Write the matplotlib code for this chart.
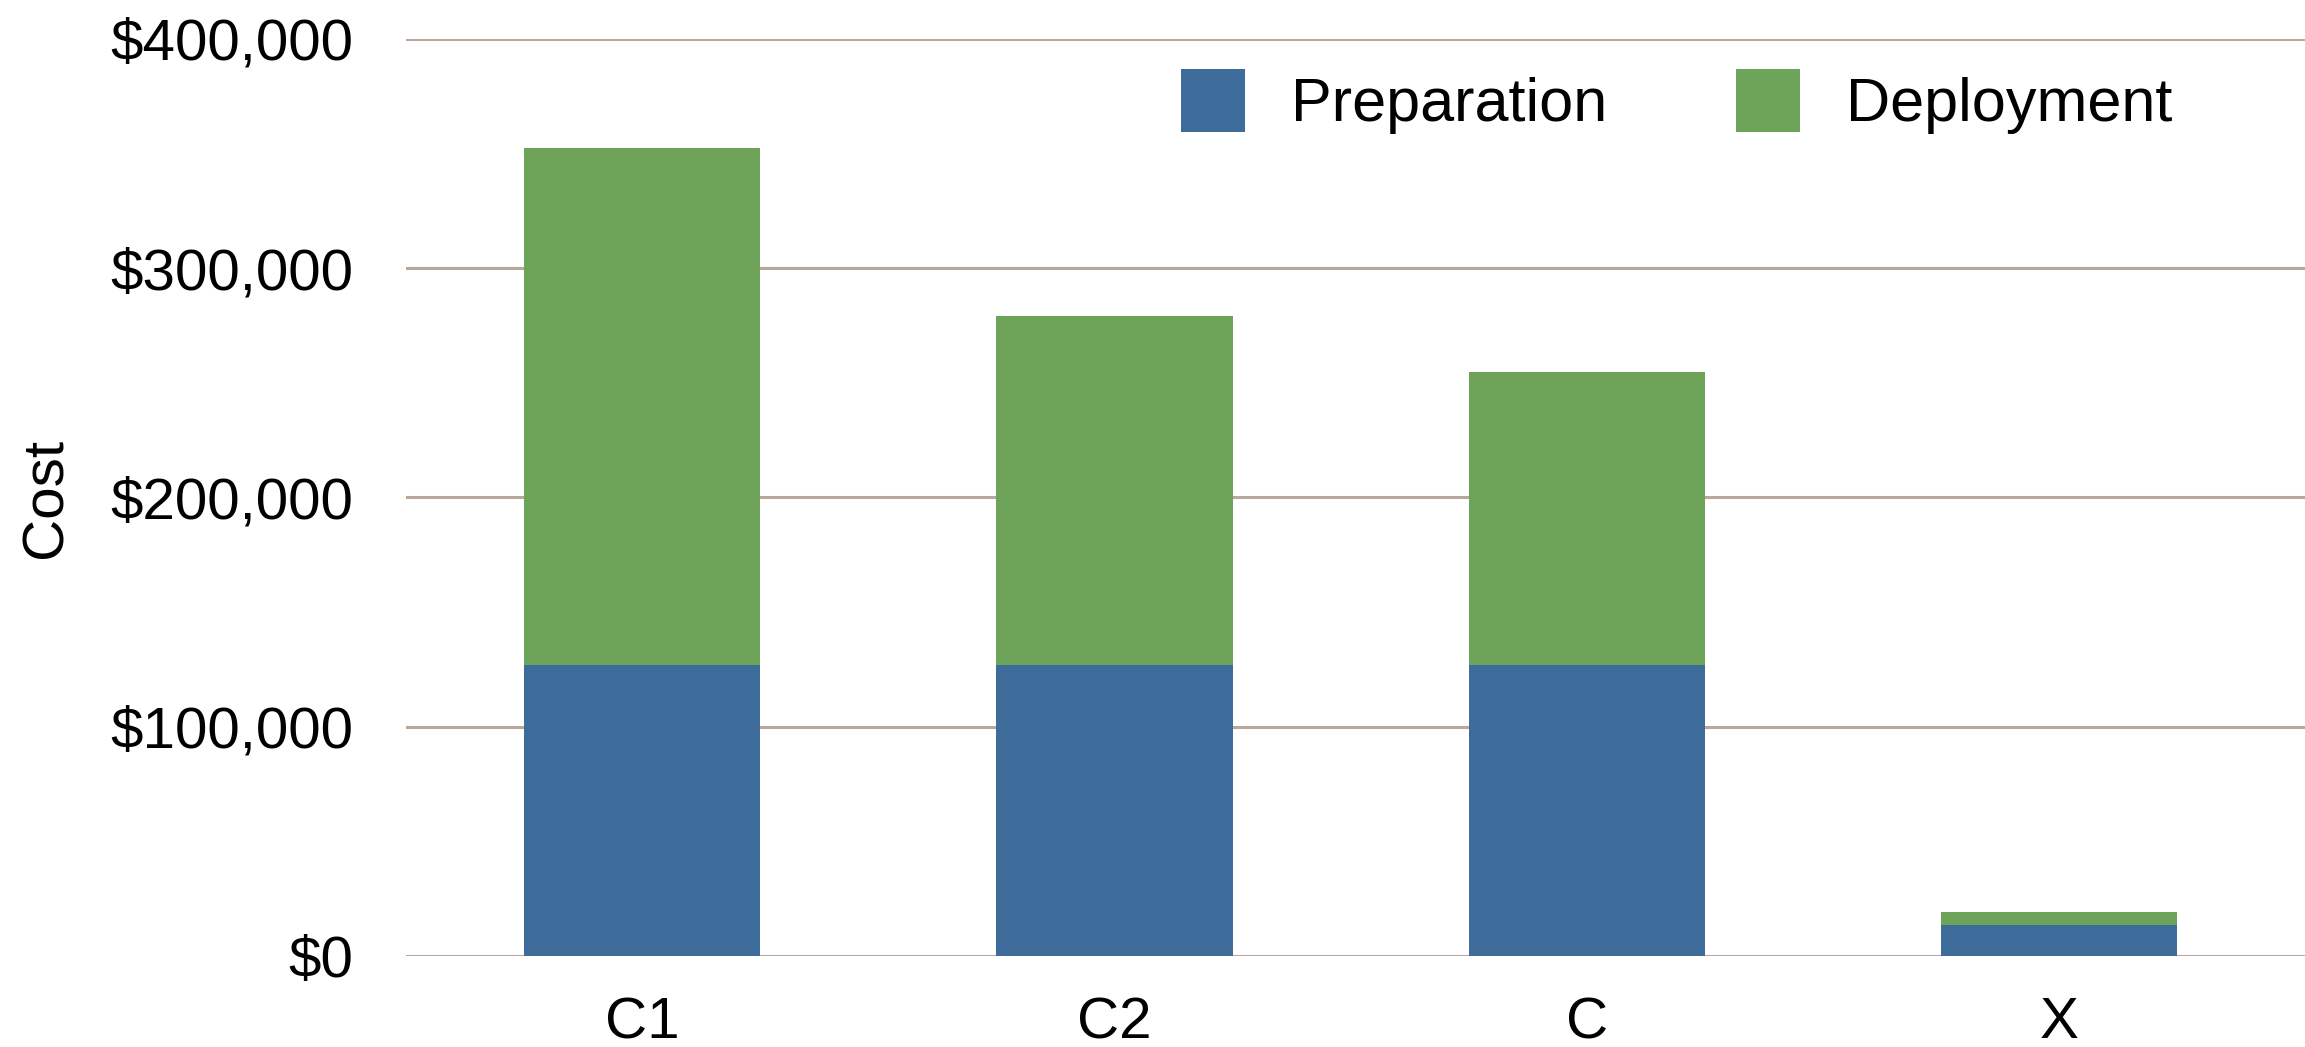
import matplotlib
matplotlib.use("Agg")
import matplotlib.pyplot as plt
from matplotlib.ticker import FuncFormatter

# Cost breakdown per configuration
categories = ["C1", "C2", "C", "X"]
preparation = [127000, 127000, 127000, 13500]
deployment = [225500, 152000, 127700, 5500]

blue = "#3d6c9b"
green = "#6ea45a"
grid_color = "#b9a79c"

plt.rcParams["font.family"] = ["Liberation Sans", "DejaVu Sans"]

fig = plt.figure(figsize=(23.05, 10.47), dpi=100)
ax = fig.add_axes([406 / 2305, 1 - 956 / 1047, (2305 - 406) / 2305, (956 - 39) / 1047])

x = range(len(categories))
ax.bar(x, preparation, width=0.5, color=blue, label="Preparation", zorder=3)
ax.bar(x, deployment, width=0.5, bottom=preparation, color=green,
       label="Deployment", zorder=3)

ax.set_ylim(0, 400000)
ax.set_xlim(-0.5, 3.52)
ax.set_yticks([0, 100000, 200000, 300000, 400000])
ax.yaxis.set_major_formatter(FuncFormatter(lambda v, p: "${:,.0f}".format(v)))
ax.set_xticks(list(x))
ax.set_xticklabels(categories)

ax.grid(axis="y", color=grid_color, linewidth=2.2, zorder=0)
ax.set_axisbelow(True)
for s in ax.spines.values():
    s.set_visible(False)
ax.tick_params(axis="both", length=0, labelsize=42)
ax.tick_params(axis="y", pad=38)
ax.tick_params(axis="x", pad=29)

ax.set_ylabel("Cost", fontsize=42)
ax.yaxis.set_label_coords(-0.175, 0.5)

leg = ax.legend(loc="upper right", bbox_to_anchor=(0.93, 0.967), ncol=2,
                frameon=False, fontsize=44, handlelength=1.05, handleheight=1.21,
                handletextpad=0.75, columnspacing=2.1, borderpad=0,
                borderaxespad=0)

fig.savefig("out.png", dpi=100)
